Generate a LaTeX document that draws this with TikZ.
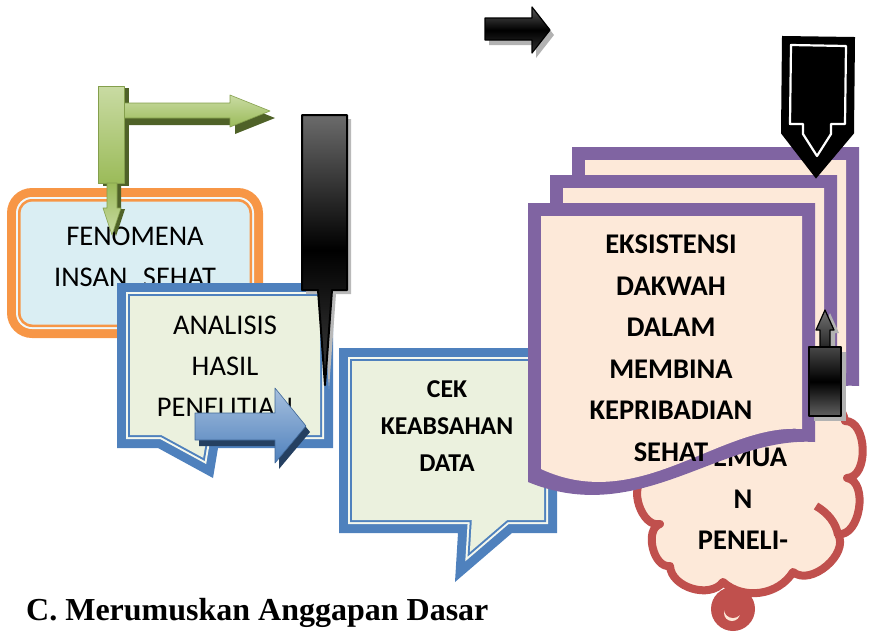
\documentclass[tikz,border=0pt]{standalone}
\usepackage{fontspec}
\setmainfont{Carlito}
\newfontfamily\serifbold{Liberation Serif}
\definecolor{orng}{HTML}{F79646}
\definecolor{lblue}{HTML}{DAEEF3}
\definecolor{bblue}{HTML}{4F81BD}
\definecolor{pale}{HTML}{EBF1DE}
\definecolor{purp}{HTML}{8064A2}
\definecolor{peach}{HTML}{FDE9D9}
\definecolor{cred}{HTML}{C0504D}
\definecolor{gdark}{HTML}{4F6228}
\definecolor{glight}{HTML}{C9DBA3}
\definecolor{gmid}{HTML}{9BBB59}
\definecolor{bdark}{HTML}{254061}
\definecolor{blight}{HTML}{A7C0DE}
\begin{document}
\begin{tikzpicture}[x=1pt,y=-1pt,line join=round,
  txt/.style={font=\fontsize{28.5}{41}\selectfont, align=center, inner sep=0pt},
  btxt/.style={font=\fontsize{28.5}{41.5}\selectfont\bfseries, align=center, inner sep=0pt},
  ctxt/.style={font=\fontsize{25.7}{37}\selectfont\bfseries, align=center, inner sep=0pt},
  anap/.style={insert path={({117+#1},{283+#1}) -- ({333-#1},{283+#1}) -- ({333-#1},{448-#1}) -- ({218-0.847*#1},{448-#1}) -- ({213-0.756*#1},{478-1.553*#1}) -- ({158+0.255*#1},{448-#1}) -- ({117+#1},{448-#1}) -- cycle}},
  cekp/.style={insert path={({339+#1},{348+#1}) -- ({557-#1},{348+#1}) -- ({557-#1},{533-#1}) -- ({512-0.371*#1},{533-#1}) -- ({455+1.144*#1},{582-2.303*#1}) -- ({458+1.063*#1},{533-#1}) -- ({339+#1},{533-#1}) -- cycle}},
  docp/.style={insert path={({528+#1},{203+#1}) -- ({815-#1},{203+#1}) -- ({815-#1},{442-#1}) .. controls (720,{436-#1}) and (640,{528-#1}) .. ({528+#1},{482-#1}) -- cycle}},
  hgreen/.style={insert path={(124,103) -- (230,103) -- (230,95) -- (270,111) -- (230,127) -- (230,118) -- (124,118) -- cycle}},
  dgreen/.style={insert path={(107,183) -- (117,183) -- (117,208) -- (121,208) -- (112,235) -- (103,208) -- (107,208) -- cycle}},
  penp/.style={insert path={(302,115) -- (347,115) -- (347,290) -- (332,290) -- (325,385) -- (318,290) -- (302,290) -- cycle}},
  barrow/.style={insert path={(195,413) -- (275,413) -- (275,388) -- (306,426) -- (275,463) -- (275,440) -- (195,440) -- cycle}},
  tarrow/.style={insert path={(485,18) -- (532,18) -- (532,7) -- (550,30) -- (532,53) -- (532,40) -- (485,40) -- cycle}},
  uarrow/.style={insert path={(820,347) -- (820,330) -- (816,330) -- (825,310) -- (834,330) -- (830,330) -- (830,347) -- cycle}},
  cloudp/.style={insert path={(845,421) to[bend left=90] (847,478) to[bend left=90] (838,534) to[bend left=80] (793,572) to[bend left=50] (723,582) to[bend left=70] (670,566) to[bend left=85] (660,524) to[bend left=85] (645,478) to[bend left=75] (665,435) to[bend left=70] (715,413) to[bend left=70] (780,406) to[bend left=70] cycle}}
]
\useasboundingbox (0,0) rectangle (871,635);

% orange box
\fill[orng, rounded corners=25] (7,188) rectangle (263,338);
\fill[white!60!lblue, rounded corners=16] (16,197) rectangle (254,329);
\fill[orng, rounded corners=14] (18,199) rectangle (252,327);
\fill[lblue, rounded corners=12] (20.5,201.5) rectangle (249.5,324.5);
\node[txt] (fenomena) at (135,257) {FENOMENA\\INSAN\hspace{9pt} SEHAT};

% green bent arrow
\fill[gdark] (103,88) rectangle (129,186);
\begin{scope}[shift={(5,7)}]\path[fill=gdark, hgreen];\end{scope}
\path[top color=glight, bottom color=gmid, draw=gmid!85!black, line width=0.6, hgreen];
\path[top color=glight, bottom color=gmid, draw=gmid!85!black, line width=0.6] (98,86) rectangle (124,183);
\begin{scope}[shift={(4,1)}]\path[fill=gdark, dgreen];\end{scope}
\path[top color=gmid, bottom color=glight, draw=gmid!85!black, line width=0.6, dgreen];

% ANALISIS callout
\path[fill=bblue, anap=0];
\path[fill=white!50!pale, anap=9];
\path[fill=bblue, anap=11];
\path[fill=pale, anap=13];
\node[txt] (analisis) at (225,366) {ANALISIS\\HASIL\\PENELITIAN};

% black pen
\begin{scope}[shift={(4,4)}]\path[fill=gray!55, penp];\end{scope}
\path[draw=black, line width=2, top color=black!58, bottom color=black!75, middle color=black, penp];

% blue arrow
\begin{scope}[shift={(4,6)}]\path[fill=bdark, barrow];\end{scope}
\path[top color=blight, bottom color=bblue, draw=bblue!80!black, line width=0.6, barrow];

% top black arrow
\begin{scope}[shift={(4,5)}]\path[fill=gray!60, tarrow];\end{scope}
\path[draw=black, line width=1.2, top color=black!65, bottom color=black!80, middle color=black, tarrow];

% CEK callout
\path[fill=bblue, cekp=0];
\path[fill=white!50!pale, cekp=9];
\path[fill=bblue, cekp=11];
\path[fill=pale, cekp=13];
\node[ctxt] (cek) at (447,426.5) {CEK\\KEABSAHAN\\DATA};

% cloud
\path[draw=cred, line width=8, fill=peach, cloudp];
\draw[cred, line width=8] (816,506) .. controls (828,513) and (836,523) .. (838,535);
\fill[cred] (733,609) circle (22);
\fill[peach] (732,613) circle (8);
\fill[cred] (733,609) circle (9);
\node[btxt] (temuan) at (743,499) {TEMUA\\N\\PENELI-};

% purple documents
\begin{scope}[shift={(44,-56)}]
\path[fill=purp, docp=0];
\path[fill=peach, docp=13];
\end{scope}
\begin{scope}[shift={(22,-28)}]
\path[fill=purp, docp=0];
\path[fill=peach, docp=13];
\end{scope}
\path[fill=purp, docp=0];
\path[fill=peach, docp=13];
\node[btxt] (eksistensi) at (671,348) {EKSISTENSI\\DAKWAH\\DALAM\\MEMBINA\\KEPRIBADIAN\\SEHAT};

% big black down arrow
\path[fill=black, draw=black, line width=2, line join=miter] (783,37) -- (854,38) -- (853,133) -- (816,177) -- (782,133) -- cycle;
\draw[white, line width=2.2] (791,45) -- (846,46) -- (845,124) -- (831,124) -- (831,134) -- (817,156) -- (803,134) -- (803,124) -- (790,124) -- cycle;

% small up arrow
\begin{scope}[shift={(5,3)}]\path[fill=gray!60, uarrow];\end{scope}
\fill[gray!60] (814,352) rectangle (846,421);
\path[draw=black, line width=1.2, top color=black!55, bottom color=black!85, uarrow];
\path[draw=black, line width=1.5, top color=black!72, bottom color=black!62, middle color=black] (809,347) rectangle (841,416);

% title
\node[anchor=base west, inner sep=0pt, font=\fontsize{32}{38}\serifbold\bfseries] (title) at (26,620) {C. Merumuskan Anggapan Dasar};
\end{tikzpicture}
\end{document}
